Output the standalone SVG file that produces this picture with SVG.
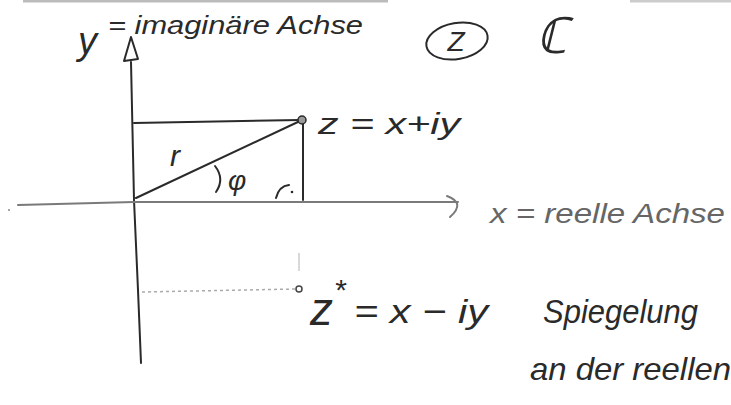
<svg xmlns="http://www.w3.org/2000/svg" width="731" height="405" viewBox="0 0 731 405">
<style>
.ink{fill:none;stroke:#2a2a2a;stroke-width:2;stroke-linecap:round;stroke-linejoin:round}
.gray{fill:none;stroke:#7a7a7a;stroke-width:2;stroke-linecap:round}
.t{font-family:"Liberation Sans",Arial,sans-serif;font-style:italic;fill:#2a2a2a}
.tg{font-family:"Liberation Sans",Arial,sans-serif;font-style:italic;fill:#666}
</style>
<rect width="731" height="405" fill="#fff"/>
<line x1="23" y1="1" x2="388" y2="1" stroke="#bbb" stroke-width="3"/>
<line x1="630" y1="1" x2="731" y2="1" stroke="#ccc" stroke-width="3"/>
<g id="connectors">
  <path class="ink" d="M131 62 L134 200 L138 290 L141 363"/>
  <path class="ink" d="M131 37 L124 61 L138 59 Z"/>
  <path class="gray" d="M18 205 L134 202 L447 202 L458 202"/>
  <path class="gray" d="M447 196 Q466 203 450 217"/>
  <path class="ink" d="M134 123 L300 120"/>
  <path class="ink" d="M303 121 L303 200"/>
  <path class="ink" d="M136 198 L300 121"/>
  <path class="ink" d="M215 166 Q225 179 216 192"/>
  <path class="ink" d="M276 198 Q279 186 289 185"/>
  <circle cx="292" cy="192" r="1.3" fill="#2a2a2a"/>
  <path d="M142 292 L296 289" fill="none" stroke="#aaa" stroke-width="1.5" stroke-dasharray="3 3"/>
  <line x1="299" y1="253" x2="299" y2="271" stroke="#ccc" stroke-width="1.5"/>
  <circle cx="9" cy="210" r="1" fill="#888"/>
</g>
<g id="node-z">
  <circle cx="302" cy="120" r="4" fill="#999" stroke="#2a2a2a" stroke-width="1.5"/>
  <text class="t" x="318" y="134" font-size="30" textLength="142" lengthAdjust="spacingAndGlyphs">z = x+iy</text>
</g>
<g id="node-zstar">
  <circle cx="299" cy="289" r="3" fill="#fff" stroke="#444" stroke-width="1.5"/>
  <text class="t" font-size="46"><tspan x="310" y="325">z</tspan><tspan x="334" y="300" font-size="30">*</tspan><tspan x="354" y="323" font-size="34" textLength="134" lengthAdjust="spacingAndGlyphs">= x − iy</tspan></text>
</g>
<g id="label-imag">
  <text class="t" font-size="26"><tspan x="78" y="54" font-size="38">y</tspan><tspan x="108" y="34" textLength="255" lengthAdjust="spacingAndGlyphs">= imaginäre Achse</tspan></text>
</g>
<g id="label-Z">
  <ellipse cx="457" cy="41" rx="31" ry="18" transform="rotate(-10 457 41)" class="ink"/>
  <text class="t" x="456" y="51" font-size="28" text-anchor="middle">Z</text>
</g>
<g id="label-C">
  <text class="t" x="552" y="53" font-size="50" text-anchor="middle">ℂ</text>
</g>
<g id="label-real">
  <text class="tg" x="490" y="223" font-size="28" textLength="235" lengthAdjust="spacingAndGlyphs">x = reelle Achse</text>
</g>
<g id="label-r">
  <text class="t" x="170" y="166" font-size="30">r</text>
  <text class="t" x="228" y="190" font-size="28">φ</text>
</g>
<g id="label-spiegelung">
  <text class="t" x="543" y="323" font-size="34" textLength="155" lengthAdjust="spacingAndGlyphs">Spiegelung</text>
  <text class="t" x="530" y="380" font-size="32" textLength="201" lengthAdjust="spacingAndGlyphs">an der reellen</text>
</g>
</svg>
